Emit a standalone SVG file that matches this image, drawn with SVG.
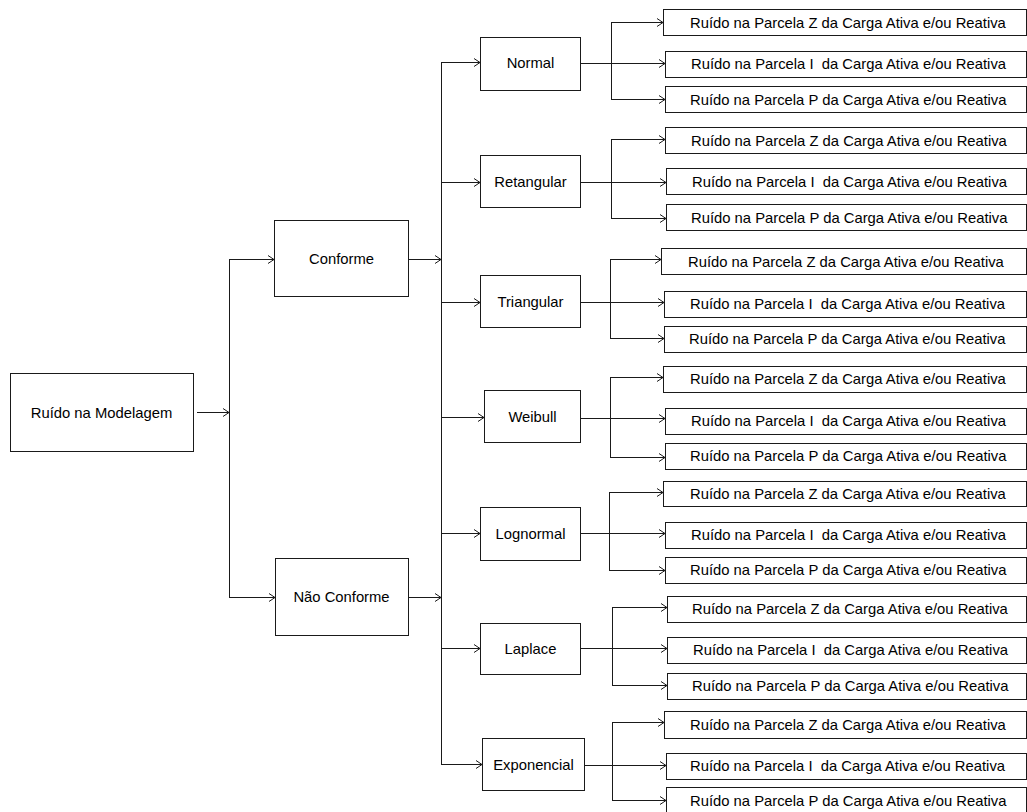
<svg xmlns="http://www.w3.org/2000/svg" width="1027" height="812" viewBox="0 0 1027 812">
<style>
.b{fill:#fff;stroke:#1a1a1a;stroke-width:1}
.t{font-family:"Liberation Sans",Arial,sans-serif;font-size:14.8px;fill:#000}
.m{text-anchor:middle}
.c{fill:none;stroke:#1a1a1a;stroke-width:1}
.a{marker-end:url(#ah)}
</style>
<defs>
<marker id="ah" markerWidth="10" markerHeight="10" refX="7" refY="5" orient="auto" markerUnits="userSpaceOnUse">
<path d="M1,1 L7,5 L1,9" fill="none" stroke="#1a1a1a" stroke-width="1"/>
</marker>
</defs>
<rect width="1027" height="812" fill="#fff"/>
<g id="connectors">
<path class="c a" d="M197,412.5 H229"/>
<path class="c" d="M229.5,260 V597"/>
<path class="c a" d="M229,259.5 H274"/>
<path class="c a" d="M229,597.5 H275"/>
<path class="c a" d="M408,259.5 H441"/>
<path class="c a" d="M408,597.5 H441"/>
<path class="c" d="M441.5,62 V764"/>
<path class="c a" d="M441,62.5 H480"/>
<path class="c a" d="M441,182.5 H480"/>
<path class="c a" d="M441,302.5 H480"/>
<path class="c a" d="M441,417.5 H484"/>
<path class="c a" d="M441,533.5 H480"/>
<path class="c a" d="M441,648.5 H480"/>
<path class="c a" d="M441,764.5 H482"/>
<path class="c" d="M611.5,22 V99"/>
<path class="c a" d="M611,22.5 H663"/>
<path class="c a" d="M580,63.5 H665"/>
<path class="c a" d="M611,99.5 H665"/>
<path class="c" d="M611.5,139 V218"/>
<path class="c a" d="M611,139.5 H665"/>
<path class="c a" d="M580,182.5 H666"/>
<path class="c a" d="M611,218.5 H666"/>
<path class="c" d="M610.5,259 V338"/>
<path class="c a" d="M610,259.5 H661"/>
<path class="c a" d="M580,302.5 H664"/>
<path class="c a" d="M610,338.5 H664"/>
<path class="c" d="M610.5,377 V457"/>
<path class="c a" d="M610,377.5 H663"/>
<path class="c a" d="M580,418.5 H665"/>
<path class="c a" d="M610,457.5 H665"/>
<path class="c" d="M609.5,492 V570"/>
<path class="c a" d="M609,492.5 H663"/>
<path class="c a" d="M580,533.5 H665"/>
<path class="c a" d="M609,570.5 H665"/>
<path class="c" d="M612.5,607 V685"/>
<path class="c a" d="M612,607.5 H667"/>
<path class="c a" d="M580,648.5 H667"/>
<path class="c a" d="M612,685.5 H667"/>
<path class="c" d="M612.5,722 V800"/>
<path class="c a" d="M612,722.5 H664"/>
<path class="c a" d="M584,765.5 H666"/>
<path class="c a" d="M612,800.5 H666"/>
</g>
<g id="root"><rect class="b" x="10.5" y="373.5" width="183" height="78"/><text class="t m" x="101.5" y="417.5">Ruído na Modelagem</text></g>
<g id="conforme"><rect class="b" x="274.5" y="220.5" width="134" height="76"/><text class="t m" x="341.5" y="263.5">Conforme</text></g>
<g id="nao-conforme"><rect class="b" x="275.5" y="558.5" width="133" height="77"/><text class="t m" x="341.5" y="602">Não Conforme</text></g>
<g id="normal"><rect class="b" x="480.5" y="37.5" width="100" height="53"/><text class="t m" x="530.5" y="68">Normal</text></g>
<g id="retangular"><rect class="b" x="480.5" y="155.5" width="100" height="52"/><text class="t m" x="530.5" y="186.5">Retangular</text></g>
<g id="triangular"><rect class="b" x="480.5" y="275.5" width="100" height="52"/><text class="t m" x="530.5" y="306.5">Triangular</text></g>
<g id="weibull"><rect class="b" x="484.5" y="390.5" width="96" height="52"/><text class="t m" x="532.5" y="421.5">Weibull</text></g>
<g id="lognormal"><rect class="b" x="480.5" y="507.5" width="100" height="53"/><text class="t m" x="530.5" y="538.5">Lognormal</text></g>
<g id="laplace"><rect class="b" x="480.5" y="623.5" width="100" height="51"/><text class="t m" x="530.5" y="653.5">Laplace</text></g>
<g id="exponencial"><rect class="b" x="482.5" y="738.5" width="102" height="52"/><text class="t m" x="533.5" y="769.5">Exponencial</text></g>
<g id="n1z"><rect class="b" x="663.5" y="9.5" width="363" height="26"/><text class="t" x="690" y="27.5">Ruído na Parcela Z da Carga Ativa e/ou Reativa</text></g>
<g id="n1i"><rect class="b" x="665.5" y="51.5" width="361" height="26"/><text class="t" x="691" y="69" xml:space="preserve">Ruído na Parcela I  da Carga Ativa e/ou Reativa</text></g>
<g id="n1p"><rect class="b" x="665.5" y="86.5" width="361" height="26"/><text class="t" x="690" y="104.5">Ruído na Parcela P da Carga Ativa e/ou Reativa</text></g>
<g id="n2z"><rect class="b" x="665.5" y="127.5" width="361" height="26"/><text class="t" x="691" y="145.5">Ruído na Parcela Z da Carga Ativa e/ou Reativa</text></g>
<g id="n2i"><rect class="b" x="666.5" y="168.5" width="360" height="26"/><text class="t" x="692" y="186.5" xml:space="preserve">Ruído na Parcela I  da Carga Ativa e/ou Reativa</text></g>
<g id="n2p"><rect class="b" x="666.5" y="204.5" width="360" height="26"/><text class="t" x="691" y="222.5">Ruído na Parcela P da Carga Ativa e/ou Reativa</text></g>
<g id="n3z"><rect class="b" x="661.5" y="248.5" width="365" height="26"/><text class="t" x="688" y="266.5">Ruído na Parcela Z da Carga Ativa e/ou Reativa</text></g>
<g id="n3i"><rect class="b" x="664.5" y="291.5" width="362" height="26"/><text class="t" x="690" y="309" xml:space="preserve">Ruído na Parcela I  da Carga Ativa e/ou Reativa</text></g>
<g id="n3p"><rect class="b" x="664.5" y="326.5" width="362" height="26"/><text class="t" x="689" y="344">Ruído na Parcela P da Carga Ativa e/ou Reativa</text></g>
<g id="n4z"><rect class="b" x="663.5" y="366.5" width="363" height="26"/><text class="t" x="690" y="384">Ruído na Parcela Z da Carga Ativa e/ou Reativa</text></g>
<g id="n4i"><rect class="b" x="665.5" y="408.5" width="361" height="26"/><text class="t" x="691" y="426" xml:space="preserve">Ruído na Parcela I  da Carga Ativa e/ou Reativa</text></g>
<g id="n4p"><rect class="b" x="665.5" y="443.5" width="361" height="26"/><text class="t" x="690" y="461">Ruído na Parcela P da Carga Ativa e/ou Reativa</text></g>
<g id="n5z"><rect class="b" x="663.5" y="481.5" width="363" height="25"/><text class="t" x="690" y="498.5">Ruído na Parcela Z da Carga Ativa e/ou Reativa</text></g>
<g id="n5i"><rect class="b" x="665.5" y="522.5" width="361" height="26"/><text class="t" x="691" y="540" xml:space="preserve">Ruído na Parcela I  da Carga Ativa e/ou Reativa</text></g>
<g id="n5p"><rect class="b" x="665.5" y="557.5" width="361" height="26"/><text class="t" x="690" y="575">Ruído na Parcela P da Carga Ativa e/ou Reativa</text></g>
<g id="n6z"><rect class="b" x="667.5" y="596.5" width="359" height="26"/><text class="t" x="692" y="614">Ruído na Parcela Z da Carga Ativa e/ou Reativa</text></g>
<g id="n6i"><rect class="b" x="667.5" y="637.5" width="359" height="26"/><text class="t" x="693" y="655" xml:space="preserve">Ruído na Parcela I  da Carga Ativa e/ou Reativa</text></g>
<g id="n6p"><rect class="b" x="667.5" y="673.5" width="359" height="26"/><text class="t" x="692" y="691">Ruído na Parcela P da Carga Ativa e/ou Reativa</text></g>
<g id="n7z"><rect class="b" x="664.5" y="711.5" width="362" height="27"/><text class="t" x="690" y="729.5">Ruído na Parcela Z da Carga Ativa e/ou Reativa</text></g>
<g id="n7i"><rect class="b" x="666.5" y="753.5" width="360" height="26"/><text class="t" x="690" y="771" xml:space="preserve">Ruído na Parcela I  da Carga Ativa e/ou Reativa</text></g>
<g id="n7p"><rect class="b" x="666.5" y="787.5" width="360" height="26"/><text class="t" x="690" y="805.5">Ruído na Parcela P da Carga Ativa e/ou Reativa</text></g>
</svg>
